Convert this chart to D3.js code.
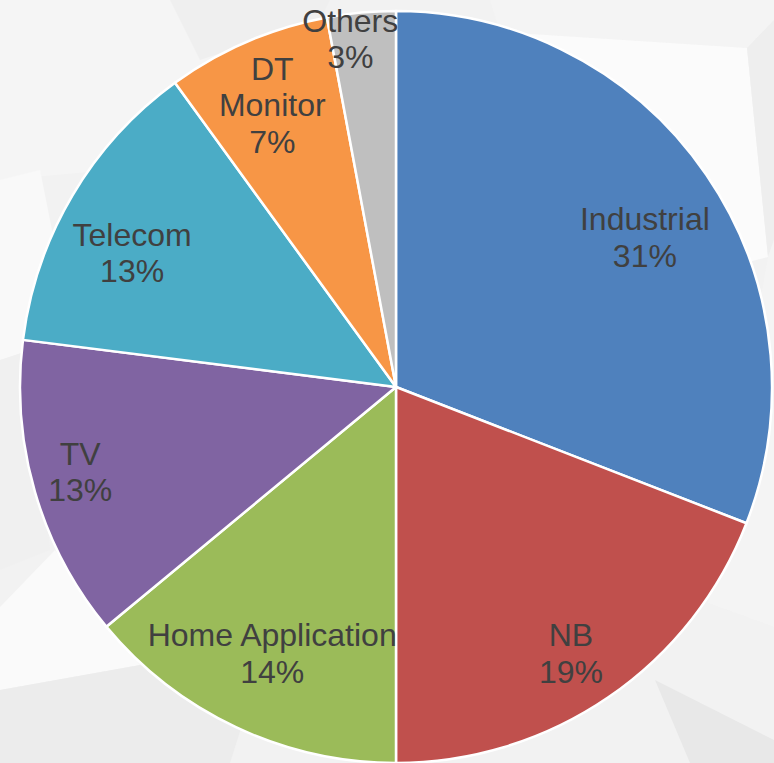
<!DOCTYPE html>
<html>
<head>
<meta charset="utf-8">
<script src="https://cdn.jsdelivr.net/npm/d3@7"></script>
<style>
  body { margin: 0; background: #f2f2f2; }
  svg { display: block; }
</style>
</head>
<body>
<div id="chart"></div>
<script>
// Frame size
const FRAME_WIDTH = 774;
const FRAME_HEIGHT = 763;

// Pie geometry
const CENTER = {x: 396, y: 387};
const RADIUS = 376;

// Chart data
const CATEGORIES = ["Industrial", "NB", "Home Application", "TV", "Telecom", "DT Monitor", "Others"];
const SHARES = [30.9, 19.1, 14.0, 13.0, 13.0, 7.06, 2.94];
const COLORS = ["#4F81BD", "#C0504D", "#9BBB59", "#8064A2", "#4BACC6", "#F79646", "#BFBFBF"];

// Label placement (fraction of radius, angle shift in degrees) - layout only
const LABEL_RADIUS = [0.772, 0.848, 0.782, 0.87, 0.787, 0.819, 0.933];
const LABEL_SHIFT = [3.4, 1.1, -0.3, 1.1, -3.7, -0.4, -2.2];

// Faint low-poly background facets
const BG_FACETS = [
  {fill: "#f5f5f5", pts: [[0,0],[170,0],[250,40],[110,170],[0,180]]},
  {fill: "#efefef", pts: [[170,0],[330,0],[320,20],[200,60]]},
  {fill: "#f9f9f9", pts: [[0,180],[40,170],[75,345],[0,360]]},
  {fill: "#f4f4f4", pts: [[490,0],[774,0],[774,20],[747,48],[500,32]]},
  {fill: "#fbfbfb", pts: [[500,32],[747,48],[768,257],[600,300],[420,60]]},
  {fill: "#eeeeee", pts: [[747,48],[774,20],[774,240],[768,257]]},
  {fill: "#f4f4f4", pts: [[768,257],[774,240],[774,627],[708,603]]},
  {fill: "#f2f2f2", pts: [[708,603],[774,627],[774,763],[660,763],[640,660]]},
  {fill: "#e8e8e8", pts: [[655,680],[774,740],[774,763],[690,763]]},
  {fill: "#f0f0f0", pts: [[0,360],[30,350],[50,550],[0,570]]},
  {fill: "#fafafa", pts: [[0,607],[55,550],[140,665],[0,690]]},
  {fill: "#ececec", pts: [[0,690],[140,665],[250,700],[230,763],[0,763]]}
];

const FRAME = d3.select("#chart")
                .append("svg")
                  .attr("width", FRAME_WIDTH)
                  .attr("height", FRAME_HEIGHT);

// Background
FRAME.append("rect")
    .attr("width", FRAME_WIDTH)
    .attr("height", FRAME_HEIGHT)
    .attr("fill", "#f2f2f2");

FRAME.selectAll(".facet")
    .data(BG_FACETS)
    .enter()
    .append("polygon")
      .attr("class", "facet")
      .attr("points", (d) => d.pts.map(p => p.join(",")).join(" "))
      .attr("fill", (d) => d.fill);

// Build the pie
function build_pie() {
    const data = CATEGORIES.map((c, i) => ({
        name: c, value: SHARES[i], color: COLORS[i],
        lr: LABEL_RADIUS[i], shift: LABEL_SHIFT[i]
    }));

    const total = d3.sum(SHARES);
    const pct = d3.format(".0%");

    const pie = d3.pie()
        .sort(null)
        .value((d) => d.value);

    const arc = d3.arc()
        .innerRadius(0)
        .outerRadius(RADIUS);

    const arcs = pie(data);

    const G = FRAME.append("g")
        .attr("transform", "translate(" + CENTER.x + "," + CENTER.y + ")");

    // Slices
    G.selectAll(".slice")
        .data(arcs)
        .enter()
        .append("path")
          .attr("class", "slice")
          .attr("d", arc)
          .attr("fill", (d) => d.data.color)
          .attr("stroke", "#ffffff")
          .attr("stroke-width", 2.5)
          .attr("stroke-linejoin", "round");

    // Labels: category name + percent
    const LINE_H = 36.5;
    const labels = G.selectAll(".label")
        .data(arcs)
        .enter()
        .append("text")
          .attr("class", "label")
          .attr("text-anchor", "middle")
          .style("font-family", "'Liberation Sans', Arial, sans-serif")
          .style("font-size", "32px")
          .style("fill", "#404040")
          .attr("transform", (d) => {
              const a = (d.startAngle + d.endAngle) / 2 + d.data.shift * Math.PI / 180;
              const r = d.data.lr * RADIUS;
              return "translate(" + (Math.sin(a) * r) + "," + (-Math.cos(a) * r) + ")";
          });

    labels.each(function(d) {
        const lines = d.data.name === "DT Monitor" ? ["DT", "Monitor"] : [d.data.name];
        lines.push(pct(d.data.value / total));
        const n = lines.length;
        const sel = d3.select(this);
        lines.forEach((t, i) => {
            sel.append("tspan")
                .attr("x", 0)
                .attr("y", (i - (n - 1) / 2) * LINE_H + 11)
                .text(t);
        });
    });
}

build_pie();
</script>
</body>
</html>
